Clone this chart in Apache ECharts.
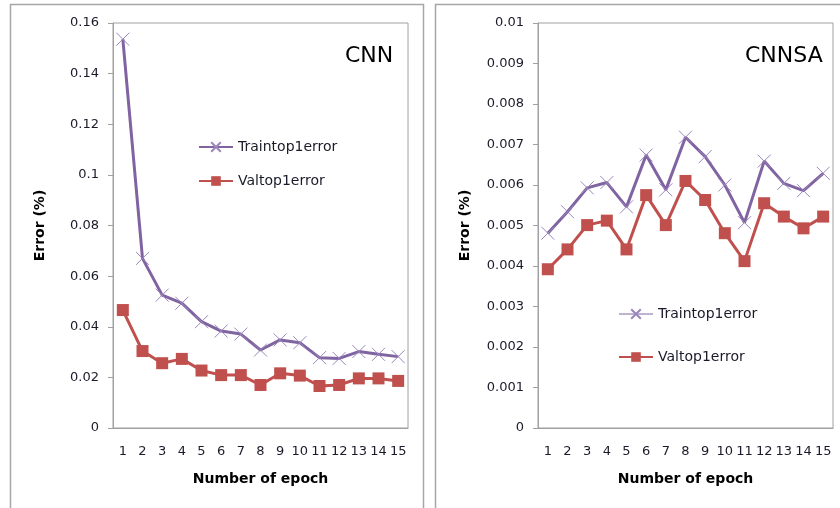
<!DOCTYPE html>
<html>
<head>
<meta charset="utf-8">
<script src="https://cdn.jsdelivr.net/npm/echarts@6/dist/echarts.min.js"></script>
<style>
  html, body { margin: 0; padding: 0; background: #fff; }
  #chart { width: 840px; height: 508px; }
</style>
</head>
<body>
<div id="chart"></div>
<script>
const epochs = ['1', '2', '3', '4', '5', '6', '7', '8', '9', '10', '11', '12', '13', '14', '15']

// CNN (left panel)
const cnnTrain = [0.1536, 0.067, 0.0525, 0.0493, 0.042, 0.0383, 0.0371, 0.0308, 0.0348, 0.0337, 0.0278, 0.0275, 0.0302, 0.0291, 0.0282]
const cnnVal = [0.0466, 0.0304, 0.0256, 0.0273, 0.0227, 0.0209, 0.0209, 0.017, 0.0216, 0.0207, 0.0166, 0.017, 0.0196, 0.0196, 0.0186]

// CNNSA (right panel)
const saTrain = [0.00481, 0.00534, 0.00593, 0.00606, 0.00546, 0.00674, 0.00588, 0.00718, 0.0067, 0.006, 0.00507, 0.00659, 0.00604, 0.00586, 0.00629]
const saVal = [0.00392, 0.00441, 0.00501, 0.00512, 0.00441, 0.00575, 0.00501, 0.0061, 0.00563, 0.00481, 0.00412, 0.00555, 0.00522, 0.00493, 0.00522]

const trainName = 'Traintop1error'
const valName = 'Valtop1error'

const purple = '#8064a2'
const red = '#c0504d'
const font = 'DejaVu Sans'
const crossSymbol = 'path://M0,0L10,10M10,0L0,10'

let myChart = echarts.init(document.getElementById('chart'))

function xAxis(idx) {
  return {
    type: 'category',
    gridIndex: idx,
    data: epochs,
    boundaryGap: true,
    axisLine: { lineStyle: { color: '#a0a0a0', width: 1 } },
    axisTick: { show: false },
    axisLabel: { interval: 0, color: '#1a1a2a', fontFamily: font, fontSize: 13, margin: 17 },
    name: 'Number of epoch',
    nameLocation: 'middle',
    nameGap: 44,
    nameTextStyle: { color: '#000', fontFamily: font, fontWeight: 'bold', fontSize: 14 }
  }
}

function yAxis(idx, max, interval) {
  return {
    type: 'value',
    gridIndex: idx,
    min: 0,
    max: max,
    interval: interval,
    splitLine: { show: false },
    axisLine: { show: true, lineStyle: { color: '#a0a0a0', width: 1 } },
    axisTick: { show: true, length: 5, lineStyle: { color: '#a0a0a0' } },
    axisLabel: { color: '#1a1a2a', fontFamily: font, fontSize: 13, margin: 14 },
    name: 'Error (%)',
    nameLocation: 'middle',
    nameGap: 66,
    nameTextStyle: { color: '#000', fontFamily: font, fontWeight: 'bold', fontSize: 14 }
  }
}

function trainSeries(idx, data) {
  return {
    name: trainName,
    type: 'line',
    xAxisIndex: idx,
    yAxisIndex: idx,
    data: data,
    symbol: crossSymbol,
    symbolSize: 13,
    itemStyle: { color: purple, borderColor: '#9a86bb', borderWidth: 1 },
    lineStyle: { color: purple, width: 3 },
    animation: false
  }
}

function valSeries(idx, data) {
  return {
    name: valName,
    type: 'line',
    xAxisIndex: idx,
    yAxisIndex: idx,
    data: data,
    symbol: 'rect',
    symbolSize: 12,
    itemStyle: { color: red },
    lineStyle: { color: red, width: 3 },
    animation: false
  }
}

myChart.setOption({
  animation: false,
  graphic: [
    { type: 'rect', shape: { x: 10.5, y: 4.5, width: 413, height: 520 }, style: { fill: 'none', stroke: '#a6a6a6', lineWidth: 1.5 }, z: -1 },
    { type: 'rect', shape: { x: 435.5, y: 4.5, width: 420, height: 520 }, style: { fill: 'none', stroke: '#a6a6a6', lineWidth: 1.5 }, z: -1 }
  ],
  title: [
    { text: 'CNN', left: 340, top: 40, textStyle: { fontFamily: font, fontWeight: 'normal', fontSize: 22, color: '#000' } },
    { text: 'CNNSA', left: 740, top: 40, textStyle: { fontFamily: font, fontWeight: 'normal', fontSize: 22, color: '#000' } }
  ],
  legend: [
    {
      left: 198, top: 140, padding: 0, orient: 'vertical', itemGap: 20, itemWidth: 34, itemHeight: 12,
      textStyle: { fontFamily: font, fontSize: 14, color: '#1a1a2a' },
      data: [trainName, valName]
    },
    {
      left: 618, top: 307, padding: 0, orient: 'vertical', itemGap: 29, itemWidth: 34, itemHeight: 12,
      textStyle: { fontFamily: font, fontSize: 14, color: '#1a1a2a' },
      data: [{ name: trainName, lineStyle: { width: 1 } }, valName]
    }
  ],
  grid: [
    { left: 113, top: 23, width: 295, height: 405, show: true, borderColor: '#a0a0a0', borderWidth: 1 },
    { left: 538, top: 23, width: 295, height: 405, show: true, borderColor: '#a0a0a0', borderWidth: 1 }
  ],
  xAxis: [xAxis(0), xAxis(1)],
  yAxis: [yAxis(0, 0.16, 0.02), yAxis(1, 0.01, 0.001)],
  series: [
    trainSeries(0, cnnTrain),
    valSeries(0, cnnVal),
    trainSeries(1, saTrain),
    valSeries(1, saVal)
  ]
})
</script>
</body>
</html>
